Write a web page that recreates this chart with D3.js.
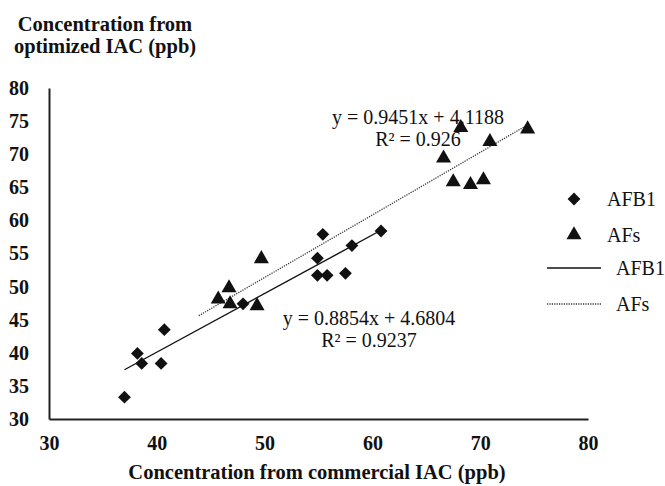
<!DOCTYPE html>
<html>
<head>
<meta charset="utf-8">
<script src="https://cdn.jsdelivr.net/npm/d3@7"></script>
<style>
  body { margin: 0; background: #fff; }
  text { font-family: "Liberation Serif", "Times New Roman", serif; fill: #111; }
</style>
</head>
<body>
<svg id="chart" width="665" height="486"></svg>
<script>
// AFB1 points (commercial IAC vs optimized IAC, ppb)
const afb1X = [37.0, 38.2, 38.6, 40.4, 40.7, 48.0, 54.9, 55.4, 54.9, 55.8, 57.5, 58.1, 60.8];
const afb1Y = [33.3, 39.9, 38.4, 38.4, 43.5, 47.4, 54.3, 57.9, 51.7, 51.7, 52.0, 56.2, 58.4];

// AFs points
const afsX = [45.7, 46.7, 46.8, 49.3, 49.7, 66.6, 68.2, 70.9, 74.4, 67.5, 69.1, 70.3];
const afsY = [48.1, 49.8, 47.4, 47.1, 54.2, 69.4, 74.0, 71.9, 73.8, 65.8, 65.4, 66.1];

// linear trendlines: [slope, intercept], x extent
const afb1Fit = [0.8854, 4.6804];
const afb1FitRange = [37.0, 60.8];
const afsFit = [0.9451, 4.1188];
const afsFitRange = [43.9, 74.4];

const xTicks = [30, 40, 50, 60, 70, 80];
const yTicks = [30, 35, 40, 45, 50, 55, 60, 65, 70, 75, 80];

const svg = d3.select("#chart");
const margin = { left: 49, top: 88, right: 77, bottom: 67 };
const width = 665 - margin.left - margin.right;
const height = 486 - margin.top - margin.bottom;

const x = d3.scaleLinear().domain([30, 80]).range([0, width]);
const y = d3.scaleLinear().domain([30, 80]).range([height, 0]);

const g = svg.append("g")
    .attr("transform", `translate(${margin.left},${margin.top})`);

// Axes
const xAxis = g.append("g")
    .attr("transform", `translate(0,${height})`)
    .call(d3.axisBottom(x).tickValues(xTicks).tickSize(0).tickPadding(17));
const yAxis = g.append("g")
    .call(d3.axisLeft(y).tickValues(yTicks).tickSize(0).tickPadding(20));

[xAxis, yAxis].forEach(a => {
    a.select(".domain").attr("stroke", "#222").attr("stroke-width", 2);
    a.selectAll("text")
        .attr("font-family", "Liberation Serif")
        .attr("font-size", 20)
        .attr("font-weight", "bold")
        .attr("fill", "#111");
});

// Trendlines
function fitLine(fit, range) {
    return range.map(v => [x(v), y(fit[0] * v + fit[1])]);
}
const line = d3.line();

g.append("path")
    .attr("d", line(fitLine(afb1Fit, afb1FitRange)))
    .attr("stroke", "#111")
    .attr("stroke-width", 1.4)
    .attr("fill", "none");

g.append("path")
    .attr("d", line(fitLine(afsFit, afsFitRange)))
    .attr("stroke", "#333")
    .attr("stroke-width", 1.3)
    .attr("stroke-dasharray", "1.2,1.2")
    .attr("fill", "none");

// Markers
const diamond = d3.symbol().type(d3.symbolSquare).size(82);
const triangle = d3.symbol().type(d3.symbolTriangle).size(98);

g.selectAll(".afs")
    .data(afsX.map((v, i) => [v, afsY[i]]))
    .enter()
    .append("path")
    .attr("class", "afs")
    .attr("d", triangle)
    .attr("transform", d => `translate(${x(d[0])},${y(d[1])})`)
    .attr("fill", "#111");

g.selectAll(".afb1")
    .data(afb1X.map((v, i) => [v, afb1Y[i]]))
    .enter()
    .append("path")
    .attr("class", "afb1")
    .attr("d", diamond)
    .attr("transform", d => `translate(${x(d[0])},${y(d[1])}) rotate(45)`)
    .attr("fill", "#111");

// Equations
function equation(cx, cy, eq, r2) {
    g.append("text")
        .attr("x", cx).attr("y", cy)
        .attr("text-anchor", "middle")
        .attr("font-size", 20)
        .text(eq);
    g.append("text")
        .attr("x", cx).attr("y", cy + 22)
        .attr("text-anchor", "middle")
        .attr("font-size", 20)
        .text(r2);
}
equation(369, 36, "y = 0.9451x + 4.1188", "R² = 0.926");
equation(320, 237, "y = 0.8854x + 4.6804", "R² = 0.9237");

// Axis titles
const yTitle = svg.append("text")
    .attr("x", 105).attr("y", 31)
    .attr("text-anchor", "middle")
    .attr("font-size", 20.5)
    .attr("font-weight", "bold");
yTitle.append("tspan").attr("x", 105).text("Concentration from");
yTitle.append("tspan").attr("x", 105).attr("dy", 22).text("optimized IAC (ppb)");

svg.append("text")
    .attr("x", 317).attr("y", 479)
    .attr("text-anchor", "middle")
    .attr("font-size", 20.5)
    .attr("font-weight", "bold")
    .text("Concentration from commercial IAC (ppb)");

// Legend
const legend = svg.append("g");
const legendItems = ["AFB1", "AFs", "AFB1", "AFs"];
const legendY = [199, 235, 268, 304];

legend.append("path")
    .attr("d", diamond)
    .attr("transform", `translate(574,${legendY[0]}) rotate(45)`)
    .attr("fill", "#111");
legend.append("path")
    .attr("d", triangle)
    .attr("transform", `translate(574,${legendY[1]})`)
    .attr("fill", "#111");
legend.append("line")
    .attr("x1", 547).attr("x2", 601)
    .attr("y1", legendY[2]).attr("y2", legendY[2])
    .attr("stroke", "#111").attr("stroke-width", 1.4);
legend.append("line")
    .attr("x1", 547).attr("x2", 601)
    .attr("y1", legendY[3]).attr("y2", legendY[3])
    .attr("stroke", "#333").attr("stroke-width", 1.3)
    .attr("stroke-dasharray", "1.2,1.2");

legend.selectAll("text")
    .data(legendItems)
    .enter()
    .append("text")
    .attr("x", (d, i) => i < 2 ? 607 : 616)
    .attr("y", (d, i) => legendY[i] + 7)
    .attr("font-size", 20)
    .text(d => d);
</script>
</body>
</html>
